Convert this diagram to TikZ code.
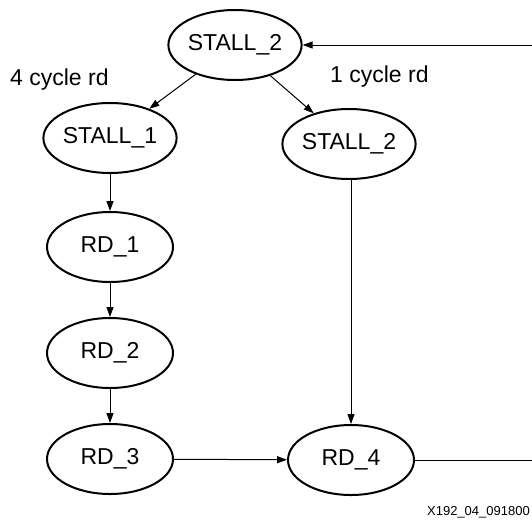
\documentclass[tikz,border=0pt]{standalone}
\usepackage{fontspec}
\setmainfont{Liberation Sans}
\usetikzlibrary{arrows.meta,shapes.geometric}
\tikzset{
  state/.style={ellipse, draw, line width=2pt, minimum width=126pt, minimum height=70pt, inner sep=0pt, font=\fontsize{23}{27}\selectfont},
  conn/.style={line width=1pt, -{Triangle[length=10pt,width=7pt]}},
  lbl/.style={font=\fontsize{23}{27}\selectfont, anchor=base west, inner sep=0pt},
  small/.style={font=\fontsize{13}{16}\selectfont, anchor=base east, inner sep=0pt}
}
\begin{document}
\begin{tikzpicture}[x=1pt,y=-1pt]
\useasboundingbox (0,0) rectangle (532,520);
\node[state] (s0) at (235,45) {STALL\_2};
\node[state] (s1) at (110,138) {STALL\_1};
\node[state] (s2) at (349,144) {STALL\_2};
\node[state] (r1) at (110,247) {RD\_1};
\node[state] (r2) at (110,353) {RD\_2};
\node[state] (r3) at (110,459) {RD\_3};
\node[state] (r4) at (351,460) {RD\_4};
\node[lbl] (l4) at (10,85) {4 cycle rd};
\node[lbl] (l1) at (330,82) {1 cycle rd};
\node[small] (fig) at (530,515) {X192\_04\_091800};
\coordinate (cb) at (533.5,460);
\coordinate (ct) at (533.5,45);
\draw[conn] (s0) -- (s1);
\draw[conn] (s0) -- (s2);
\draw[conn] (s1) -- (r1);
\draw[conn] (r1) -- (r2);
\draw[conn] (r2) -- (r3);
\draw[conn] (r3) -- (r4);
\draw[conn] (s2.south -| r4.north) -- (r4.north);
\draw[conn] (r4.east) -- (cb) -- (ct) -- (s0.east);
\end{tikzpicture}
\end{document}
